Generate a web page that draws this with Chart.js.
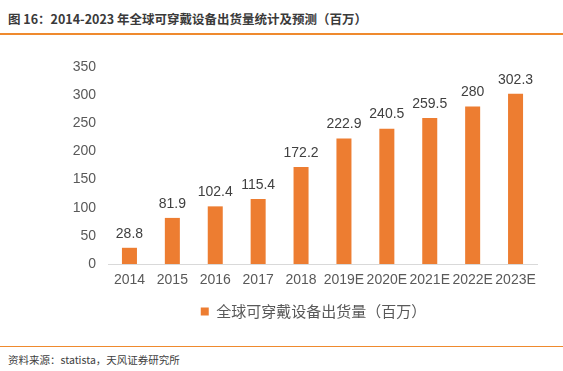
<!DOCTYPE html>
<html>
<head>
<meta charset="utf-8">
<script src="https://cdn.jsdelivr.net/npm/chart.js@4.4.1/dist/chart.umd.min.js"></script>
<style>
  body { margin: 0; background: #fff; font-family: "Noto Sans CJK SC", "Liberation Sans", sans-serif; }
  #wrap { position: relative; width: 563px; height: 371px; overflow: hidden; }
  #title { position: absolute; left: 8px; top: 9px; font-size: 12.5px; font-weight: bold; color: #3a3a3a; white-space: nowrap; }
  #topline { position: absolute; left: 0; top: 33px; width: 563px; height: 2px; background: #ef8a2e; }
  #botline { position: absolute; left: 0; top: 346px; width: 563px; height: 1px; background: #ef8a2e; }
  #source { position: absolute; left: 8px; top: 352px; font-size: 10.5px; color: #404040; white-space: nowrap; }
  #chartBox { position: absolute; left: 0; top: 40px; width: 563px; height: 300px; }
</style>
</head>
<body>
<div id="wrap">
  <div id="title">图 16：2014-2023 年全球可穿戴设备出货量统计及预测（百万）</div>
  <div id="topline"></div>
  <div id="chartBox"><canvas id="myChart"></canvas></div>
  <div id="botline"></div>
  <div id="source">资料来源：statista，天风证券研究所</div>
</div>
<script>
const years = ["2014", "2015", "2016", "2017", "2018", "2019E", "2020E", "2021E", "2022E", "2023E"];
const shipments = [28.8, 81.9, 102.4, 115.4, 172.2, 222.9, 240.5, 259.5, 280, 302.3];
const seriesName = "全球可穿戴设备出货量（百万）";

const textColor = "#595959";
const barColor = "#ed7d31";

// numbers above each bar
const valueLabels = {
    id: "valueLabels",
    afterDatasetsDraw(chart) {
        const c = chart.ctx;
        const meta = chart.getDatasetMeta(0);
        c.save();
        c.font = "14px 'Liberation Sans', Arial, sans-serif";
        c.fillStyle = "#404040";
        c.textAlign = "center";
        c.textBaseline = "bottom";
        meta.data.forEach((bar, i) => {
            c.fillText(shipments[i], bar.x, bar.y - 7);
        });
        c.restore();
    }
};

// legend sits a bit right of the canvas centre in the original
const legendShift = {
    id: "legendShift",
    afterLayout(chart) {
        chart.legend.left += 45;
        chart.legend.right += 45;
    }
};

new Chart(document.getElementById("myChart"), {
    type: "bar",
    data: {
        labels: years,
        datasets: [{
            label: seriesName,
            data: shipments,
            backgroundColor: barColor,
            barPercentage: 0.7,
            categoryPercentage: 0.5,
        }]
    },
    options: {
        responsive: true,
        maintainAspectRatio: false,
        animation: false,
        layout: { padding: { top: 27, right: 26, left: 0, bottom: 11 } },
        plugins: {
            legend: {
                position: "bottom",
                labels: {
                    color: textColor,
                    font: { size: 15, family: "'Noto Sans CJK SC', sans-serif" },
                    boxWidth: 8,
                    boxHeight: 8,
                    padding: 8,
                }
            },
            tooltip: { enabled: false },
        },
        scales: {
            x: {
                grid: { display: false, drawTicks: false },
                border: { color: "#d9d9d9" },
                ticks: {
                    color: textColor,
                    font: { size: 14, family: "'Liberation Sans', Arial, sans-serif" },
                    padding: 8,
                    maxRotation: 0,
                    autoSkip: false,
                },
                afterFit: (scale) => { scale.height = 32; }
            },
            y: {
                min: 0,
                max: 350,
                grid: { display: false, drawTicks: false },
                border: { display: false },
                ticks: {
                    stepSize: 50,
                    color: textColor,
                    font: { size: 14, family: "'Liberation Sans', Arial, sans-serif" },
                    padding: 12,
                },
                afterFit: (scale) => { scale.width = 108; }
            }
        }
    },
    plugins: [valueLabels, legendShift]
});
</script>
</body>
</html>
